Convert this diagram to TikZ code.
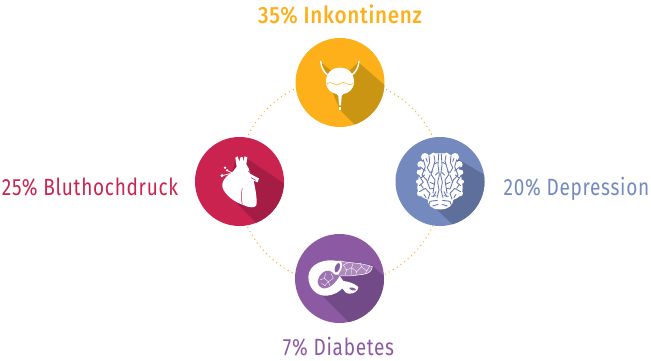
\documentclass[tikz,border=0pt]{standalone}
\usepackage{fontspec}
\setmainfont{Fira Sans}
\newfontfamily\lblfont[LetterSpace=3,FakeStretch=0.81]{Fira Sans}
\newfontfamily\lblbold[LetterSpace=3,FakeStretch=0.88]{Fira Sans Medium}
\definecolor{cOrange}{HTML}{FDB01A}\definecolor{sOrange}{HTML}{C99512}
\definecolor{cRed}{HTML}{CB2350}\definecolor{sRed}{HTML}{A51C45}
\definecolor{cBlue}{HTML}{7489BE}\definecolor{sBlue}{HTML}{5E6F9C}
\definecolor{cPurple}{HTML}{8C5AA3}\definecolor{sPurple}{HTML}{714A87}
\tikzset{
 disc/.style={circle,minimum size=89pt,inner sep=0pt,fill=#1},
 lbl/.style={anchor=base,inner sep=0pt,font=\lblfont\fontsize{23.5}{24}\selectfont,text=#1},
 icon/.style={fill=white,draw=none},
 zoomed/.style={xscale=1/3,yscale=1/3},
 groove/.style={draw=sBlue!70!cBlue,line width=.85pt,line join=round,line cap=round},
}
\newcommand{\brainhalf}{%
 \fill[icon] (-45,96) circle[radius=12]; \fill[icon] (-58,118) circle[radius=10];
 \fill[icon] (-62,142) circle[radius=8]; \fill[icon] (-66,170) circle[radius=6];
 \fill[icon] (-60,205) circle[radius=9]; \fill[icon] (-20,90) circle[radius=7];
 \draw[groove] (-4,88)--(-6,120)--(-2,150)--(-7,172)--(-3,195)--(-9,218);
 \draw[groove] (-18,92)--(-15,108)--(-20,125)--(-27,148)--(-15,165)--(-21,205);
 \draw[groove] (-33,92)--(-31,112)--(-38,128)--(-31,142)--(-22,140);
 \draw[groove] (-50,104)--(-44,125)--(-54,150)--(-40,165)--(-30,192)--(-20,190);
 \draw[groove] (-60,125)--(-44,138);
 \draw[groove] (-64,150)--(-50,172)--(-62,182);
 \draw[groove] (-62,200)--(-44,190)--(-30,205)--(-36,222);
 \draw[groove] (-8,226)--(-30,229)--(-34,241);
 \draw[groove] (-6,238)--(-22,243);
 \draw[groove] (-30,150)--(-38,172);
 \draw[groove] (-48,208)--(-42,218);
 \draw[groove] (-56,158)--(-46,150);
 \draw[groove] (-42,100)--(-38,110);
 \draw[groove] (-18,118)--(-8,112);
 \draw[groove] (-14,150)--(-5,142);
 \draw[groove] (-30,172)--(-16,178);
 \draw[groove] (-50,190)--(-58,178);
 \draw[groove] (-12,200)--(-20,215);
 \draw[groove] (-25,214)--(-12,212);
}
\begin{document}
\begin{tikzpicture}[x=1pt,y=-1pt]
\useasboundingbox (0,0) rectangle (651,361);
\fill[white] (0,0) rectangle (651,361);
\draw[cOrange,line width=1.4pt,line cap=round,dash pattern=on 0pt off 4.6pt] (340,181.5) circle[radius=103];

\node[disc=cOrange] (top) at (340,82.5) {};
\node[disc=cRed] (left) at (239.5,181.5) {};
\node[disc=cBlue] (right) at (440,181.5) {};
\node[disc=cPurple] (bottom) at (339.5,278.5) {};

% shadows
\begin{scope}
\clip (340,82.5) circle[radius=44.5];
\begin{scope}[shift={(280,30)},zoomed]
\fill[sOrange] (122,97)--(157,125)--(205,125)--(235,97)--(400,240)--(300,360)--(180,240)--(150,170)--(140,130)--cycle;
\end{scope}\end{scope}
\begin{scope}
\clip (239.5,181.5) circle[radius=44.5];
\begin{scope}[shift={(185,125)},zoomed]
\fill[sRed] (150,110)--(185,100)--(400,245)--(300,380)--(160,240)--(130,190)--cycle;
\end{scope}\end{scope}
\begin{scope}
\clip (440,181.5) circle[radius=44.5];
\begin{scope}[shift={(385,125)},zoomed]
\fill[sBlue] (165,90)--(215,100)--(400,210)--(300,390)--(125,225)--(110,180)--cycle;
\end{scope}\end{scope}
\begin{scope}
\clip (339.5,278.5) circle[radius=44.5];
\begin{scope}[shift={(285,225)},zoomed]
\fill[sPurple] (200,110)--(260,120)--(400,250)--(290,390)--(110,210)--(100,170)--cycle;
\end{scope}\end{scope}

% bladder
\begin{scope}[shift={(280,30)},zoomed]
\draw[white,line width=1.4pt,line cap=round] (122,94) .. controls (124,115) and (133,128) .. (145,136);
\draw[white,line width=1.4pt,line cap=round] (237,94) .. controls (235,115) and (226,128) .. (214,136);
\fill[icon] (180,113) .. controls (205,113) and (222,130) .. (222,155)
  .. controls (222,178) and (205,190) .. (190,192) -- (185,198) -- (183,226) -- (177,226) -- (175,198) -- (170,192)
  .. controls (155,190) and (138,178) .. (138,155) .. controls (138,130) and (155,113) .. (180,113) -- cycle;
\fill[icon] (176,232) rectangle (184,240);
\draw[cOrange,line width=.5pt] (140,162) .. controls (148,156) and (152,156) .. (160,161) .. controls (168,166) and (172,166) .. (180,161) .. controls (188,156) and (192,156) .. (200,161) .. controls (208,166) and (212,166) .. (220,160);
\end{scope}

% heart
\begin{scope}[shift={(185,125)},zoomed]
\fill[icon] (151,98)--(158,94)--(163,110)--(167,96)--(173,96)--(174,110)--(179,94)--(187,97)
 --(184,118)--(191,130)--(195,146)--(215,157)--(222,160)--(218,172)--(206,167)
 .. controls (212,195) and (217,225) .. (214,241) .. controls (210,250) and (190,248) .. (175,240)
 .. controls (150,232) and (118,210) .. (112,185) .. controls (110,170) and (120,158) .. (130,150)
 .. controls (142,142) and (150,135) .. (155,125) -- cycle;
\fill[icon] (120,128) circle[radius=4];\fill[icon] (126,136) circle[radius=4];
\fill[icon] (111,152) circle[radius=5];
\draw[white,line width=.8pt] (111,152)--(135,146);
\draw[white,line width=.8pt] (126,136)--(140,143);
\draw[cRed,line width=.5pt] (172,190) .. controls (168,205) and (168,225) .. (172,238);
\draw[cRed,line width=.5pt] (190,139)--(206,150);
\draw[cRed,line width=.5pt] (198,158)--(212,166);
\end{scope}

% brain
\begin{scope}[shift={(385,125)},zoomed]
\fill[icon] (165,85) .. controls (185,84) and (205,90) .. (211,100) .. controls (222,125) and (232,160) .. (233,190)
 .. controls (232,205) and (226,218) .. (205,224) .. controls (205,240) and (190,254) .. (165,253)
 .. controls (140,254) and (128,240) .. (128,224) .. controls (108,218) and (98,205) .. (97,190)
 .. controls (98,160) and (108,125) .. (119,100) .. controls (125,90) and (145,84) .. (165,85) -- cycle;
\begin{scope}[shift={(165,0)}]
\brainhalf
\end{scope}
\begin{scope}[shift={(165,0)},xscale=-1]
\brainhalf
\end{scope}
\end{scope}

% pancreas
\begin{scope}[shift={(285,225)},zoomed]
\fill[icon] (157,108) .. controls (120,100) and (72,115) .. (70,155)
 .. controls (70,190) and (95,214) .. (125,212) .. controls (148,210) and (163,200) .. (172,190)
 .. controls (176,198) and (184,206) .. (192,206) .. controls (207,207) and (220,198) .. (220,186)
 .. controls (207,174) and (190,170) .. (175,168) -- (162,150) -- cycle;
\fill[cPurple!72!white,draw=white,line width=.5pt] (165,108) .. controls (195,115) and (225,112) .. (262,125)
 .. controls (262,138) and (250,146) .. (235,148) .. controls (215,150) and (195,155) .. (160,152) -- cycle;
\fill[cPurple!85!white] (98,168) .. controls (102,148) and (118,135) .. (132,137) .. controls (142,140) and (148,150) .. (165,150)
 .. controls (155,170) and (135,192) .. (115,190) .. controls (105,188) and (98,180) .. (98,168) -- cycle;
\fill[cPurple,rotate around={-15:(203,192)}] (203,192) ellipse[x radius=10,y radius=4];
\fill[icon,rotate around={70:(157,128)}] (157,128) ellipse[x radius=22,y radius=13];
\fill[cPurple,rotate around={70:(157,128)}] (157,128) ellipse[x radius=15,y radius=7];
\draw[white,line width=.35pt] (105,165)--(118,160)--(130,170)--(120,182) (118,160)--(122,145) (130,170)--(145,160)--(138,145) (130,170)--(135,182) (110,175)--(120,182);
\draw[white,line width=.35pt] (175,120)--(185,135)--(200,128)--(205,112) (185,135)--(180,150) (200,128)--(215,140)--(230,125)--(225,113) (215,140)--(212,150) (230,125)--(245,138)--(255,122) (245,138)--(240,147) (175,120)--(190,113) (172,135)--(185,135) (200,128)--(198,150);
\end{scope}

% labels
\node[lbl=cOrange,font=\lblbold\fontsize{23.5}{24}\selectfont] (lt) at (340,24) {35\% Inkontinenz};
\node[lbl=cRed] (ll) at (90,195) {25\% Bluthochdruck};
\node[lbl=cBlue] (lr) at (576.5,195) {20\% Depression};
\node[lbl=cPurple] (lb) at (338.5,355.5) {7\% Diabetes};
\end{tikzpicture}
\end{document}
